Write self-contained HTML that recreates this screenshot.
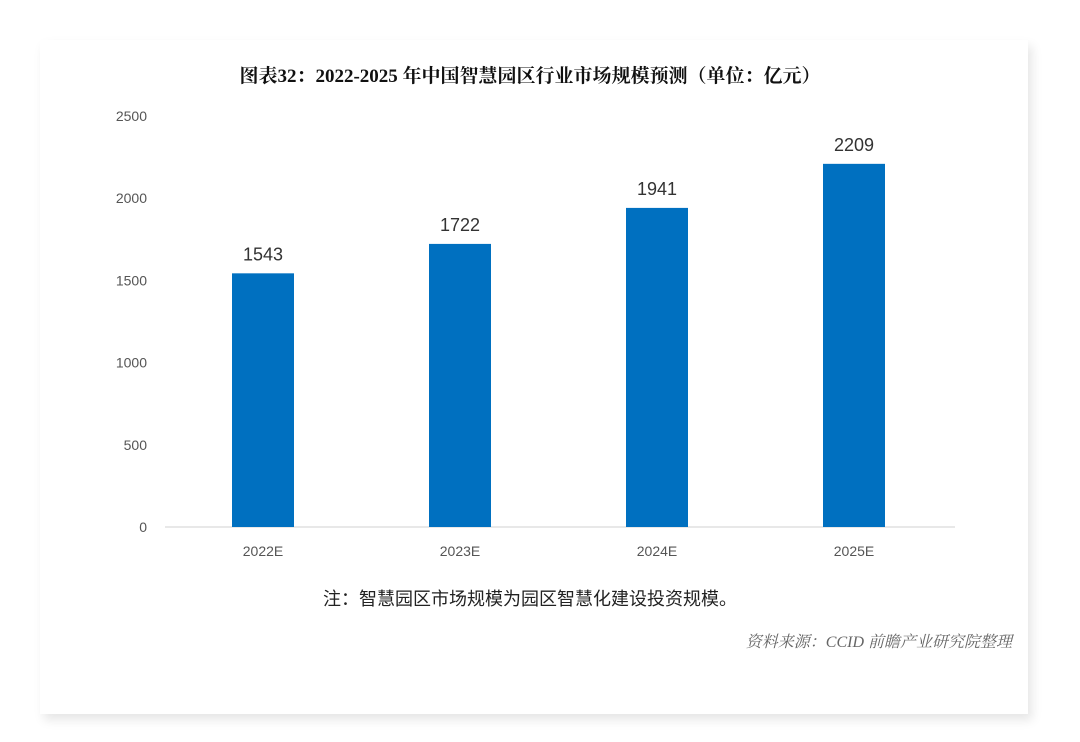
<!DOCTYPE html>
<html><head><meta charset="utf-8"><style>
html,body{margin:0;padding:0;background:#fff;width:1080px;height:742px;overflow:hidden;font-family:"Liberation Sans","Noto Sans CJK SC",sans-serif}
#card{position:absolute;left:40px;top:40px;width:988px;height:674px;background:#fff;box-shadow:4px 6px 10px rgba(0,0,0,0.10)}
svg{position:absolute;left:0;top:0}
</style></head><body>
<div id="card"></div>
<svg id="chart" width="1080" height="742">
<text x="530" y="82" text-anchor="middle" font-size="19" font-weight="bold" fill="#111" font-family="'Liberation Serif','Noto Serif CJK SC',serif">图表32：2022-2025 年中国智慧园区行业市场规模预测（单位：亿元）</text>
<line x1="165" y1="527" x2="955" y2="527" stroke="#d0d0d0" stroke-width="1"/>
<g id="yticks"></g><g id="bars"></g>
<text x="530" y="605" text-anchor="middle" font-size="18" fill="#222">注：智慧园区市场规模为园区智慧化建设投资规模。</text>
<text x="1012" y="647" text-anchor="end" font-size="16" font-style="italic" fill="#666" font-family="'Liberation Serif','Noto Serif CJK SC',serif">资料来源：CCID  前瞻产业研究院整理</text>
</svg>
<script>
const categories=["2022E","2023E","2024E","2025E"];
const values=[1543,1722,1941,2209];
const yTicks=[0,500,1000,1500,2000,2500];
const NS="http://www.w3.org/2000/svg";
function y(v){return 527-v*(411/2500);}
function xc(i){return 263+i*197;}
const yt=document.getElementById('yticks');
yTicks.forEach(t=>{
  const e=document.createElementNS(NS,'text');
  
  
  e.setAttribute('x',147);e.setAttribute('y',y(t)+5);
  e.setAttribute('text-anchor','end');e.setAttribute('font-size','14');e.setAttribute('fill','#555');
  e.textContent=t;yt.appendChild(e);
});
const bg=document.getElementById('bars');
categories.forEach((c,i)=>{
  const r=document.createElementNS(NS,'rect');
  
  
  r.setAttribute('x',xc(i)-31);r.setAttribute('width',62);
  r.setAttribute('y',y(values[i]));r.setAttribute('height',527-y(values[i]));
  r.setAttribute('fill','#0070c0');bg.appendChild(r);
  const l=document.createElementNS(NS,'text');
  
  
  l.setAttribute('x',xc(i));l.setAttribute('y',y(values[i])-13);
  l.setAttribute('text-anchor','middle');l.setAttribute('font-size','18');l.setAttribute('fill','#333');
  l.textContent=values[i];bg.appendChild(l);
  const x=document.createElementNS(NS,'text');
  
  
  x.setAttribute('x',xc(i));x.setAttribute('y',556);
  x.setAttribute('text-anchor','middle');x.setAttribute('font-size','14');x.setAttribute('fill','#555');
  x.textContent=c;bg.appendChild(x);
});
</script>
</body></html>
